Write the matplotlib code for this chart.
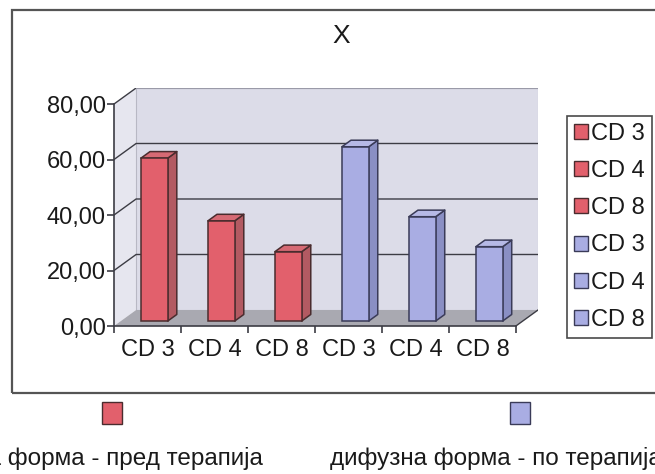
import matplotlib
matplotlib.use("Agg")
import matplotlib.pyplot as plt
from matplotlib.patches import Polygon, Rectangle, Patch
from matplotlib.ticker import FuncFormatter

plt.rcParams['font.family'] = ['Liberation Sans', 'DejaVu Sans']

categories = ['CD 3', 'CD 4', 'CD 8', 'CD 3', 'CD 4', 'CD 8']
values = [58.7, 36.1, 25.0, 62.8, 37.6, 26.8]
groups = ['red', 'red', 'red', 'blue', 'blue', 'blue']
series_labels = ['дифузна форма - пред терапија', 'дифузна форма - по терапија']
y_ticks = [0, 20, 40, 60, 80]
title = 'X'

# face colours of the 3d columns: front, side, top, edge
palette = {
    'red': ('#e2606c', '#b35a62', '#d66a74', '#4a2c2e'),
    'blue': ('#a9ade3', '#8a8fc4', '#b6b9e6', '#3a3b58'),
}
text_c = '#1a1a1a'

W, H = 655, 474
fig = plt.figure(figsize=(W / 100, H / 100), dpi=100)
fig.patch.set_facecolor('white')

def fx(px):
    return px / W

def fy(py):
    return 1 - py / H

# outer chart frame (runs past the right edge)
fig.patches.append(Rectangle((fx(12), fy(393)), fx(700) - fx(12), fy(10) - fy(393),
                             transform=fig.transFigure, fill=False,
                             edgecolor='#555555', lw=1.6))

# depth of the plot box in data units
DX, DY = 0.33, 5.77
bar_w = 0.40
f0, fd = 0.31, 0.41   # depth position and depth of the columns

ax = fig.add_axes([fx(114), fy(326), fx(538) - fx(114), fy(88) - fy(326)])
ax.set_xlim(-0.5, 5.5 + DX)
ax.set_ylim(0, 80 + DY)
ax.patch.set_visible(False)

x0, x1 = -0.5, 5.5
ymax = 80
grid_c = '#3c3c44'

# side wall, back wall, floor
ax.add_patch(Polygon([(x0, 0), (x0 + DX, DY), (x0 + DX, ymax + DY), (x0, ymax)],
                     closed=True, facecolor='#e6e6ef', edgecolor='none', zorder=0))
ax.add_patch(Rectangle((x0 + DX, DY), x1 - x0, ymax, facecolor='#dcdce8',
                       edgecolor='#b8b8c4', lw=0.8, zorder=0))
ax.add_patch(Polygon([(x0, 0), (x1, 0), (x1 + DX, DY), (x0 + DX, DY)],
                     closed=True, facecolor='#a9a9b1', edgecolor='none', zorder=1))
ax.plot([x1, x1 + DX], [0, DY], color=grid_c, lw=1.0, zorder=1)

# gridlines across side and back walls
for t in y_ticks[1:-1]:
    ax.plot([x0, x0 + DX, x1 + DX], [t, t + DY, t + DY], color=grid_c, lw=1.0, zorder=1)
ax.plot([x0, x0 + DX], [ymax, ymax + DY], color=grid_c, lw=1.0, zorder=1)
ax.plot([x0 + DX, x1 + DX], [ymax + DY, ymax + DY], color='#9a9aa8', lw=0.8, zorder=1)

# 3d columns
for i, (v, g) in enumerate(zip(values, groups)):
    front, side, top, edge = palette[g]
    left = i - bar_w / 2 + f0 * DX
    right = left + bar_w
    base = f0 * DY
    ddx, ddy = fd * DX, fd * DY
    kw = dict(closed=True, edgecolor=edge, lw=1.1, joinstyle='round', zorder=3)
    ax.add_patch(Polygon([(right, base), (right + ddx, base + ddy),
                          (right + ddx, base + v + ddy), (right, base + v)],
                         facecolor=side, **kw))
    ax.add_patch(Polygon([(left, base + v), (right, base + v),
                          (right + ddx, base + v + ddy), (left + ddx, base + v + ddy)],
                         facecolor=top, **kw))
    ax.add_patch(Rectangle((left, base), bar_w, v, facecolor=front,
                           edgecolor=edge, lw=1.1, zorder=4))

for s in ['top', 'right']:
    ax.spines[s].set_visible(False)
ax.spines['left'].set_bounds(0, ymax)
ax.spines['bottom'].set_bounds(x0, x1)
for s in ['left', 'bottom']:
    ax.spines[s].set_color(grid_c)
    ax.spines[s].set_linewidth(1.2)
    ax.spines[s].set_zorder(5)

ax.set_yticks(y_ticks)
ax.yaxis.set_major_formatter(FuncFormatter(lambda v, p: f'{v:.2f}'.replace('.', ',')))
ax.set_xticks(range(len(categories)))
ax.set_xticklabels(categories)
ax.set_xticks([k - 0.5 for k in range(len(categories) + 1)], minor=True)
ax.tick_params(axis='y', length=5, width=1.2, color=grid_c, pad=1,
               labelsize=17, labelcolor=text_c)
ax.tick_params(axis='x', which='major', length=0, pad=9,
               labelsize=17, labelcolor=text_c)
ax.tick_params(axis='x', which='minor', length=5, width=1.2, color=grid_c)

fig.text(fx(341), fy(36), title, ha='center', va='center', fontsize=19, color=text_c)

# series legend on the right
handles = [Patch(facecolor=palette[g][0], edgecolor=palette[g][3], lw=1.0) for g in groups]
leg = fig.legend(handles, categories, loc='upper left', bbox_to_anchor=(fx(567), fy(116)),
                 bbox_transform=fig.transFigure, fontsize=17, frameon=True, fancybox=False,
                 edgecolor='#4a4a4a', framealpha=1, borderaxespad=0, borderpad=0.3,
                 labelspacing=0.64, handlelength=0.6, handleheight=0.6,
                 handletextpad=0.13, labelcolor=text_c)
leg.get_frame().set_linewidth(1.2)

# category legend below the frame, key above text
for cx, g in [(112, 'red'), (520, 'blue')]:
    fig.patches.append(Rectangle((fx(cx - 10), fy(424)), fx(20), fy(402) - fy(424),
                                 transform=fig.transFigure, facecolor=palette[g][0],
                                 edgecolor=palette[g][3], lw=1.0))
fig.text(fx(263), fy(458), series_labels[0], ha='right', va='center', fontsize=17.5,
         color=text_c)
fig.text(fx(330), fy(458), series_labels[1], ha='left', va='center', fontsize=17.5,
         color=text_c)

fig.savefig('out.png', dpi=100)
